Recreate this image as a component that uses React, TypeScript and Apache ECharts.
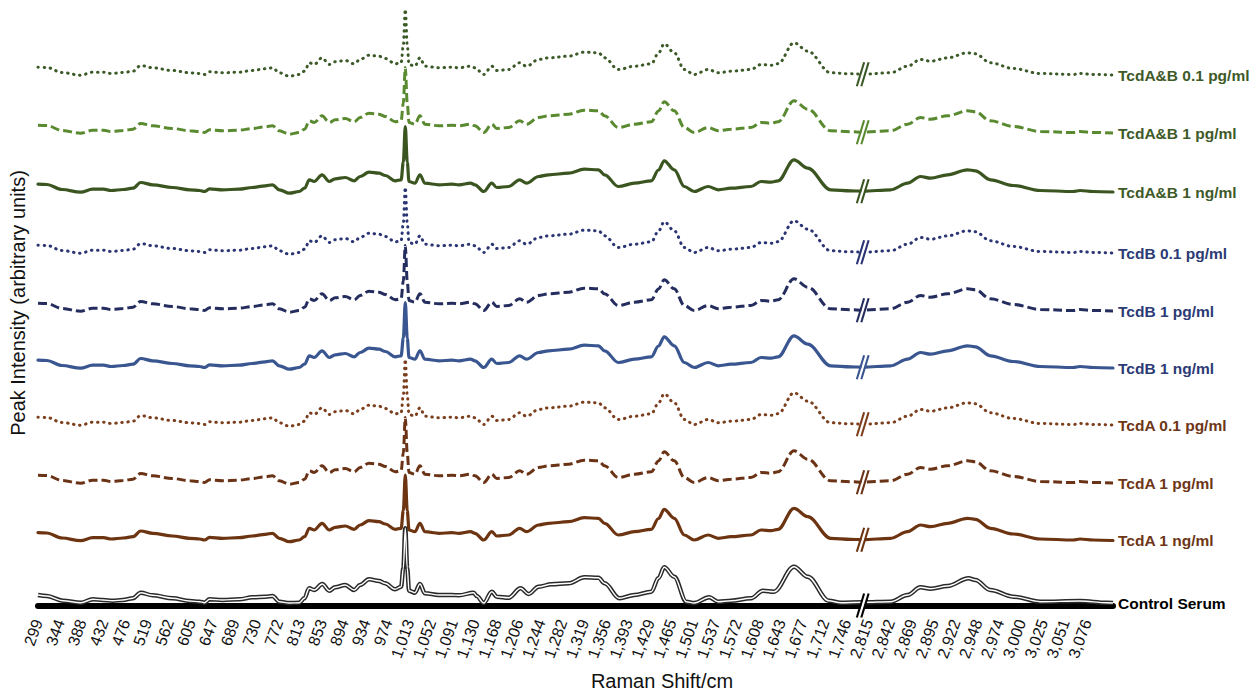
import React, { useEffect, useRef } from "react";
import * as echarts from "echarts";

// Axis tick labels (Raman shift, cm-1), evenly spaced along a broken axis
const tickValues = [
  299, 344, 388, 432, 476, 519, 562, 605, 647, 689, 730, 772, 813, 853, 894, 934, 974,
  1013, 1052, 1091, 1130, 1168, 1206, 1244, 1282, 1319, 1356, 1393, 1429, 1465, 1501,
  1537, 1572, 1608, 1643, 1677, 1712, 1746, 2815, 2842, 2869, 2895, 2922, 2948, 2974,
  3000, 3025, 3051, 3076,
];

// Position of the axis break (in tick steps)
const breakPosition = 37.75;

// Sample spectrum (position in tick steps, intensity above its own baseline)
const sampleSpectrum: [number, number][] = [
  [0, 7.8], [0.4, 7.5], [1.1, 2.5], [1.95, -0.2], [2.5, 2.8], [3.0, 2.8], [3.35, 1.5],
  [3.9, 2.5], [4.35, 3.8], [4.7, 9.5], [5.25, 7.2], [6.15, 4.5], [6.95, 2.2], [7.4, 1.5],
  [7.62, 0.5], [7.85, 3.2], [8.45, 2.2], [9.2, 2.8], [9.8, 4.5], [10.4, 6.2], [10.73, 7.2],
  [11.05, 2.2], [11.5, -1.2], [11.95, 0.5], [12.2, 3.8], [12.42, 12.2], [12.64, 10.5],
  [13.0, 17.2], [13.33, 10.5], [13.6, 13.2], [14.06, 14.5], [14.47, 11.2], [14.74, 15.5],
  [15.15, 19.8], [15.6, 18.8], [15.9, 16.5], [16.35, 11.2], [16.62, 12.2], [16.72, 30],
  [16.81, 65.5], [16.9, 30], [16.98, 10.5], [17.25, 8.8], [17.48, 17.2], [17.71, 8.8],
  [18.35, 7.2], [18.95, 7.8], [19.26, 7.2], [19.8, 8.8], [20.0, 7.2], [20.4, 0.5],
  [20.77, 8.8], [21.0, 4.5], [21.54, 5.5], [22.04, 12.2], [22.36, 8.8], [22.91, 15.5],
  [23.37, 17.2], [24.28, 18.8], [25.0, 22.8], [25.65, 22.2], [25.93, 17.2], [26.56, 5.5],
  [27.3, 8.8], [28.07, 11.2], [28.4, 22], [28.66, 31.2], [29.12, 22.2], [29.58, 5.5],
  [30.03, 0.5], [30.67, 5.5], [31.13, 2.2], [31.72, 3.8], [32.63, 5.5], [33.09, 10.5],
  [33.55, 9.8], [33.87, 11.2], [34.6, 32.2], [35.23, 23.8], [36.28, 2.2], [37.2, 1.2],
  [37.75, 0.8], [39.02, 2.2], [39.8, 8.8], [40.39, 15.5], [40.85, 13.8], [41.63, 17.2],
  [42.54, 22.2], [42.9, 21.2], [43.59, 12.2], [44.64, 6.5], [45.87, 1.5], [47.38, 0.5],
  [47.69, 1.5], [48.29, 0.5], [49.2, 0],
];

// Control serum spectrum
const controlSpectrum: [number, number][] = [
  [0, 8], [0.4, 7], [1.14, 2.3], [1.96, 0.3], [2.51, 3.7], [2.97, 3], [3.42, 2.3],
  [3.88, 3], [4.34, 4.7], [4.7, 10.3], [5.25, 7.7], [6.16, 4.7], [6.94, 2], [7.39, 1.3],
  [7.62, 0.3], [7.85, 3.7], [8.44, 3], [9.22, 3.7], [9.81, 5.7], [10.41, 6.3], [10.73, 7],
  [11.05, 1.3], [11.5, 0], [11.96, 0.3], [12.19, 4.7], [12.41, 14.7], [12.64, 13],
  [13.01, 19], [13.33, 12.3], [13.6, 15.7], [14.06, 18], [14.47, 13], [14.74, 18],
  [15.15, 23.7], [15.61, 22], [15.88, 19.7], [16.34, 13.7], [16.62, 16.3], [16.72, 35],
  [16.81, 74.7], [16.9, 35], [16.98, 12.3], [17.25, 10.3], [17.48, 19], [17.71, 9.7],
  [18.35, 8], [18.94, 8], [19.26, 7.7], [19.94, 10.3], [20.08, 7], [20.4, 0], [20.77, 11.3],
  [21.0, 6.3], [21.54, 5.3], [22.09, 14.7], [22.45, 9], [22.91, 16.3], [23.5, 18.7],
  [24.28, 19.7], [25.01, 25.7], [25.65, 25.3], [25.93, 19.7], [26.61, 4.7], [27.29, 8],
  [28.07, 11.3], [28.4, 25], [28.66, 35.7], [29.12, 26.3], [29.67, 1.3], [30.03, 0],
  [30.72, 5.7], [31.13, 1.3], [31.72, 2.3], [32.63, 4.7], [33.18, 12.3], [33.68, 11.3],
  [34.6, 36.3], [35.23, 26.3], [36.19, 2.3], [36.74, 0.3], [37.75, 0.7], [39.02, 1.3],
  [39.8, 8], [40.39, 15.7], [40.85, 14.3], [41.63, 17], [42.59, 24.7], [42.9, 23],
  [43.59, 13], [44.64, 6.3], [45.87, 1.3], [47.69, 2], [48.92, 0.3], [49.2, 0],
];

// Stacked traces (top to bottom) and their vertical offsets
const sampleNames = [
  "TcdA&B 0.1 pg/ml", "TcdA&B 1 pg/ml", "TcdA&B 1 ng/ml",
  "TcdB 0.1 pg/ml", "TcdB 1 pg/ml", "TcdB 1 ng/ml",
  "TcdA 0.1 pg/ml", "TcdA 1 pg/ml", "TcdA 1 ng/ml",
];
const sampleOffsets = [531, 473, 414, 353, 295, 238, 181, 123, 65.5];
const controlName = "Control Serum";
const controlOffset = 3;

// Styles
const lineColors = [
  "#3b5a28", "#5a8a30", "#3b5520",
  "#2b3573", "#242d5e", "#3a5690",
  "#7b3f1d", "#6a3316", "#6d3412",
];
const labelColors = [
  "#3e5a28", "#3e5a28", "#3e5a28",
  "#2c3a75", "#2c3a75", "#2c3a75",
  "#6e3616", "#6e3616", "#6e3616",
];
const lineKinds = ["dotted", "dashed", "solid", "dotted", "dashed", "solid", "dotted", "dashed", "solid"];

const FONT = "'Liberation Sans', Arial, Helvetica, sans-serif";

function lineStyleFor(kind: string, color: string) {
  if (kind === "dotted") return { color, width: 3, type: [0.5, 5.6], cap: "round" };
  if (kind === "dashed") return { color, width: 3, type: [9, 4], cap: "butt" };
  return { color, width: 3.2, type: "solid", cap: "round" };
}

export default function App() {
  const ref = useRef<HTMLDivElement>(null);
  useEffect(() => {
    document.body.style.margin = "0";
    if (!ref.current) return;
    const chart = echarts.init(ref.current, undefined, { renderer: "svg" });

    const valueAt = (spec: [number, number][], pos: number) => {
      const p = spec.find((d) => d[0] === pos);
      return p ? p[1] : 0;
    };

    const sampleSeries = sampleNames.map((name, i) => ({
      name,
      type: "line",
      data: sampleSpectrum.map(([p, h]) => [p, h + sampleOffsets[i]]),
      showSymbol: false,
      smooth: 0.35,
      smoothMonotone: "x",
      lineStyle: lineStyleFor(lineKinds[i], lineColors[i]),
      z: 3,
      endLabel: {
        show: true,
        formatter: name,
        color: labelColors[i],
        fontWeight: "bold",
        fontSize: 15.5,
        fontFamily: FONT,
        distance: 5,
      },
      emphasis: { disabled: true },
    }));

    const controlData = controlSpectrum.map(([p, h]) => [p, h + controlOffset]);

    const breakData = [
      ...sampleNames.map((_, i) => [breakPosition, valueAt(sampleSpectrum, breakPosition) + sampleOffsets[i], i]),
      [breakPosition, 0.5, -1],
    ];

    const option: any = {
      animation: false,
      grid: { left: 35, right: 147, top: 0, bottom: 90, containLabel: false },
      xAxis: {
        type: "value",
        min: 0,
        max: 49.2,
        interval: 1,
        axisLine: { show: true, lineStyle: { color: "#000", width: 6 } },
        axisTick: { show: false },
        splitLine: { show: false },
        axisLabel: {
          rotate: 70,
          fontSize: 16,
          color: "#111",
          fontFamily: FONT,
          margin: 14,
          showMaxLabel: false,
          formatter: (v: number) => {
            const i = Math.round(v);
            if (Math.abs(v - i) > 1e-6 || i < 0 || i >= tickValues.length) return "";
            return tickValues[i].toLocaleString("en-US");
          },
        },
      },
      yAxis: {
        type: "value",
        min: 0,
        max: 606,
        axisLine: { show: false },
        axisTick: { show: false },
        axisLabel: { show: false },
        splitLine: { show: false },
        name: "Peak Intensity (arbitrary units)",
        nameLocation: "middle",
        nameGap: 10,
        nameTextStyle: { fontSize: 20, color: "#111", fontFamily: FONT },
      },
      graphic: [
        {
          type: "text",
          x: 662,
          y: 681,
          style: {
            text: "Raman Shift/cm",
            font: `20px ${FONT}`,
            fill: "#111",
            textAlign: "center",
            textVerticalAlign: "middle",
          },
        },
      ],
      series: [
        ...sampleSeries,
        {
          name: controlName,
          type: "line",
          data: controlData,
          showSymbol: false,
          smooth: 0.35,
          smoothMonotone: "x",
          lineStyle: { color: "#2a2a2a", width: 4.4 },
          z: 3,
          endLabel: {
            show: true,
            formatter: controlName,
            color: "#000",
            fontWeight: "bold",
            fontSize: 15.5,
            fontFamily: FONT,
            distance: 5,
          },
          emphasis: { disabled: true },
        },
        {
          name: controlName + " core",
          type: "line",
          data: controlData,
          showSymbol: false,
          smooth: 0.35,
          smoothMonotone: "x",
          lineStyle: { color: "#ffffff", width: 1.4 },
          z: 4,
          emphasis: { disabled: true },
        },
        {
          type: "custom",
          coordinateSystem: "cartesian2d",
          data: breakData,
          encode: { x: 0, y: 1 },
          z: 6,
          silent: true,
          renderItem: (params: any, api: any) => {
            const pt = api.coord([api.value(0), api.value(1)]);
            const idx = api.value(2);
            const color = idx >= 0 ? lineColors[idx] : "#000";
            const cx = pt[0];
            const cy = pt[1];
            const h = 12;
            return {
              type: "group",
              children: [
                {
                  type: "polygon",
                  shape: { points: [[cx - 5, cy + h], [cx + 2.3, cy - h], [cx + 5.3, cy - h], [cx - 2, cy + h]] },
                  style: { fill: "#fff" },
                },
                {
                  type: "line",
                  shape: { x1: cx - 6, y1: cy + h, x2: cx + 1.3, y2: cy - h },
                  style: { stroke: color, lineWidth: 2.1 },
                },
                {
                  type: "line",
                  shape: { x1: cx - 1.5, y1: cy + h, x2: cx + 5.8, y2: cy - h },
                  style: { stroke: color, lineWidth: 2.1 },
                },
              ],
            };
          },
        },
      ],
    };

    chart.setOption(option);
    return () => chart.dispose();
  }, []);

  return <div ref={ref} style={{ width: 1260, height: 696 }} />;
}
